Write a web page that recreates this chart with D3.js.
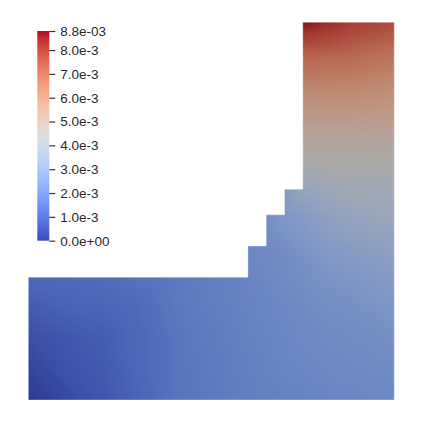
<!DOCTYPE html>
<html>
<head>
<meta charset="utf-8">
<script src="https://cdn.jsdelivr.net/npm/d3@7"></script>
<style>
html,body{margin:0;padding:0;background:#fff;}
svg{display:block;}
</style>
</head>
<body>
<svg id="chart" width="423" height="423"></svg>
<script>
// ---------- data ----------
// domain outline (model units)
const outlineX = [0, 20, 20, 15, 15, 14, 14, 13, 13, 12, 12, 0];
const outlineY = [0, 0, 20.6, 20.6, 11.5, 11.5, 10.1, 10.1, 8.4, 8.4, 6.7, 6.7];

// nodal field values (units of 1e-3)
const nodeX = [0, 4, 8, 12, 16, 20,
               0, 4, 8, 12, 16, 20,
               0, 4, 8, 12, 16, 20,
               12, 13, 16.5, 20,
               13, 14, 17, 20,
               14, 15, 17.5, 20,
               15, 17.5, 20,
               15, 17.5, 20,
               15, 17.5, 20,
               15, 17.5, 20,
               15, 16.5, 17.5, 20];
const nodeY = [0, 0, 0, 0, 0, 0,
               3.35, 3.35, 3.35, 3.35, 3.35, 3.35,
               6.7, 6.7, 6.7, 6.7, 6.7, 6.7,
               8.4, 8.4, 8.4, 8.4,
               10.1, 10.1, 10.1, 10.1,
               11.5, 11.5, 11.5, 11.5,
               14, 14, 14,
               16.5, 16.5, 16.5,
               18.6, 18.6, 18.6,
               19.8, 19.8, 19.8,
               20.6, 20.6, 20.6, 20.6];
const nodeV = [0.0, 0.7, 1.5, 1.9, 2.1, 2.2,
               0.5, 0.9, 1.55, 2.0, 2.3, 2.5,
               1.2, 1.35, 1.7, 2.1, 2.6, 3.0,
               2.2, 2.3, 3.0, 3.4,
               2.5, 2.8, 3.5, 3.8,
               3.1, 3.6, 4.0, 4.0,
               4.8, 4.8, 4.7,
               5.9, 5.9, 5.7,
               7.0, 6.9, 6.6,
               8.0, 7.6, 7.3,
               8.8, 8.3, 8.0, 7.6];

// colour bar
const rangeMin = 0, rangeMax = 8.8;   // 1e-3
const tickValues = [0, 1, 2, 3, 4, 5, 6, 7, 8, 8.8];
const tickLabels = ["0.0e+00", "1.0e-3", "2.0e-3", "3.0e-3", "4.0e-3", "5.0e-3", "6.0e-3", "7.0e-3", "8.0e-3", "8.8e-03"];

// Cool to Warm colour map (Moreland, 33 samples)
const cmapT = d3.range(33).map(i => i / 32);
const cmapRGB = [
 [59,76,192],[68,90,204],[77,104,215],[87,117,225],[98,130,234],[108,142,241],[119,154,247],[130,165,251],
 [141,176,254],[152,185,255],[163,194,255],[174,201,253],[184,208,249],[194,213,244],[204,217,238],[213,219,230],
 [221,221,221],[229,216,209],[236,211,197],[241,204,185],[245,196,173],[247,187,160],[247,177,148],[247,166,135],
 [244,154,123],[241,141,111],[236,127,99],[229,112,88],[222,96,77],[213,80,66],[203,62,56],[192,40,47],[180,4,38]];

// ---------- scales ----------
const W = 423, H = 423;
const x = d3.scaleLinear().domain([0, 20]).range([28.3, 394.3]);
const y = d3.scaleLinear().domain([0, 20.6]).range([400, 22.3]);
const color = d3.scaleLinear()
  .domain(cmapT.map(t => rangeMin + t * (rangeMax - rangeMin)))
  .range(cmapRGB.map(c => d3.rgb(c[0], c[1], c[2])))
  .interpolate(d3.interpolateRgb)
  .clamp(true);
const lit = 0.77; // surface lighting factor

const svg = d3.select("#chart");

// ---------- field (Gouraud shaded triangles) ----------
const canvas = document.createElement("canvas");
canvas.width = W; canvas.height = H;
const ctx = canvas.getContext("2d");
const img = ctx.createImageData(W, H);
const px = nodeX.map(v => x(v)), py = nodeY.map(v => y(v));
const del = d3.Delaunay.from(px.map((v, i) => [v, py[i]]));
const tri = del.triangles;
for (let t = 0; t < tri.length; t += 3) {
  const a = tri[t], b = tri[t + 1], c = tri[t + 2];
  const x1 = px[a], y1 = py[a], x2 = px[b], y2 = py[b], x3 = px[c], y3 = py[c];
  const det = (y2 - y3) * (x1 - x3) + (x3 - x2) * (y1 - y3);
  if (Math.abs(det) < 1e-9) continue;
  const minX = Math.max(0, Math.floor(Math.min(x1, x2, x3)) - 1), maxX = Math.min(W - 1, Math.ceil(Math.max(x1, x2, x3)) + 1);
  const minY = Math.max(0, Math.floor(Math.min(y1, y2, y3)) - 1), maxY = Math.min(H - 1, Math.ceil(Math.max(y1, y2, y3)) + 1);
  for (let j = minY; j <= maxY; j++) {
    for (let i = minX; i <= maxX; i++) {
      const X = i + 0.5, Y = j + 0.5;
      const l1 = ((y2 - y3) * (X - x3) + (x3 - x2) * (Y - y3)) / det;
      const l2 = ((y3 - y1) * (X - x3) + (x1 - x3) * (Y - y3)) / det;
      const l3 = 1 - l1 - l2;
      if (l1 < -0.03 || l2 < -0.03 || l3 < -0.03) continue;
      const v = l1 * nodeV[a] + l2 * nodeV[b] + l3 * nodeV[c];
      const col = d3.rgb(color(v));
      const k = (j * W + i) * 4;
      img.data[k] = col.r * lit; img.data[k + 1] = col.g * lit; img.data[k + 2] = col.b * lit; img.data[k + 3] = 255;
    }
  }
}
ctx.putImageData(img, 0, 0);

const outlinePts = outlineX.map((v, i) => [x(v), y(outlineY[i])]);
const defs = svg.append("defs");
defs.append("clipPath").attr("id", "domainClip")
  .append("polygon").attr("points", outlinePts.map(p => p.join(",")).join(" "));

svg.append("image")
  .attr("x", 0).attr("y", 0).attr("width", W).attr("height", H)
  .attr("href", canvas.toDataURL())
  .attr("clip-path", "url(#domainClip)");

svg.append("polygon")
  .attr("points", outlinePts.map(p => p.join(",")).join(" "))
  .attr("fill", "none")
  .attr("stroke", "rgba(255,255,255,0.35)")
  .attr("stroke-width", 1);

// ---------- colour bar ----------
const cb = d3.scaleLinear().domain([rangeMin, rangeMax]).range([240.7, 31]);
const grad = defs.append("linearGradient").attr("id", "cbGrad")
  .attr("x1", 0).attr("y1", 1).attr("x2", 0).attr("y2", 0);
grad.selectAll("stop").data(cmapT).join("stop")
  .attr("offset", d => d)
  .attr("stop-color", (d, i) => d3.rgb(...cmapRGB[i]).formatHex());

svg.append("rect")
  .attr("x", 37.3).attr("y", cb(rangeMax))
  .attr("width", 12).attr("height", cb(rangeMin) - cb(rangeMax))
  .attr("fill", "url(#cbGrad)");

const axis = d3.axisRight(cb)
  .tickValues(tickValues)
  .tickFormat((d, i) => tickLabels[i])
  .tickSize(6).tickPadding(5);
const gAxis = svg.append("g").attr("transform", "translate(49.3,0)").call(axis);
gAxis.select(".domain").remove();
gAxis.selectAll(".tick line").attr("stroke", "#333").attr("stroke-width", 1.2);
gAxis.selectAll(".tick text")
  .attr("fill", "#2a2a2a")
  .style("font-family", "'Liberation Sans', Arial, sans-serif")
  .style("font-size", "13.5px");
</script>
</body>
</html>
